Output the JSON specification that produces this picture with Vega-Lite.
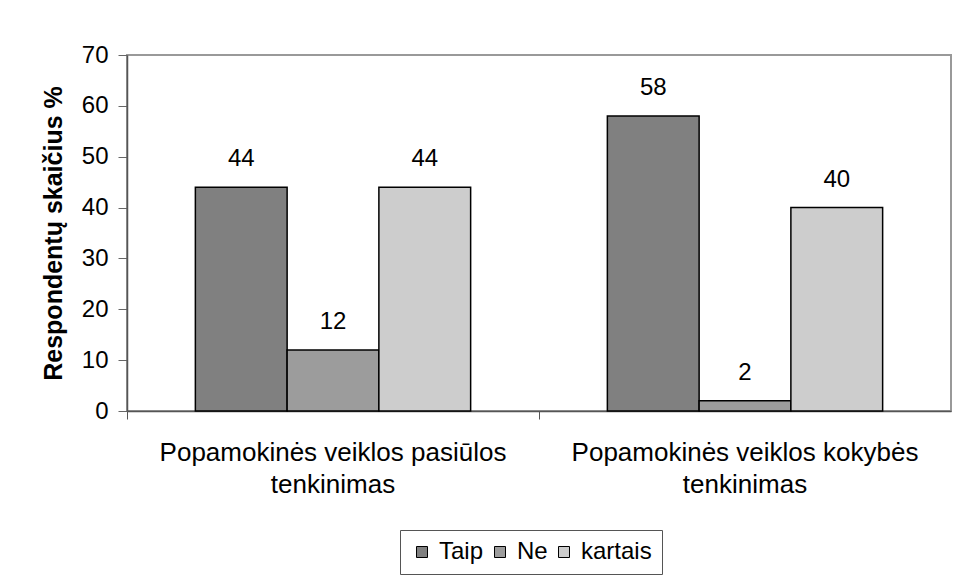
{
  "$schema": "https://vega.github.io/schema/vega-lite/v6.json",
  "width": 824,
  "height": 356,
  "autosize": {"type": "none"},
  "padding": {"left": 127, "top": 55, "right": 5, "bottom": 167},
  "background": "white",
  "config": {
    "font": "Liberation Sans",
    "view": {"stroke": "#999999", "strokeWidth": 2},
    "axis": {"labelFont": "Liberation Sans", "titleFont": "Liberation Sans", "labelColor": "black", "titleColor": "black"}
  },
  "data": {
    "values": [
      {"kategorija": "Popamokinės veiklos pasiūlos tenkinimas", "atsakymas": "Taip", "procentai": 44},
      {"kategorija": "Popamokinės veiklos pasiūlos tenkinimas", "atsakymas": "Ne", "procentai": 12},
      {"kategorija": "Popamokinės veiklos pasiūlos tenkinimas", "atsakymas": "kartais", "procentai": 44},
      {"kategorija": "Popamokinės veiklos kokybės tenkinimas", "atsakymas": "Taip", "procentai": 58},
      {"kategorija": "Popamokinės veiklos kokybės tenkinimas", "atsakymas": "Ne", "procentai": 2},
      {"kategorija": "Popamokinės veiklos kokybės tenkinimas", "atsakymas": "kartais", "procentai": 40}
    ]
  },
  "encoding": {
    "x": {
      "field": "kategorija",
      "type": "nominal",
      "sort": null,
      "scale": {"paddingInner": 0, "paddingOuter": 0},
      "axis": {
        "title": null,
        "labelAngle": 0,
        "labelFontSize": 26,
        "labelLineHeight": 32,
        "labelPadding": 20,
        "labelLimit": 0,
        "bandPosition": 0,
        "tickSize": 8,
        "tickColor": "#555555",
        "domainColor": "#555555",
        "domainWidth": 1.5,
        "labelExpr": "[slice(datum.label, 0, lastindexof(datum.label, ' ')), slice(datum.label, lastindexof(datum.label, ' ') + 1)]"
      }
    },
    "xOffset": {
      "field": "atsakymas",
      "type": "nominal",
      "sort": ["Taip", "Ne", "kartais"],
      "scale": {"paddingInner": 0, "paddingOuter": 0.745}
    },
    "y": {
      "field": "procentai",
      "type": "quantitative",
      "scale": {"domain": [0, 70]},
      "axis": {
        "title": "Respondentų skaičius %",
        "titleFontSize": 25,
        "titleFontWeight": "bold",
        "titlePadding": 15,
        "labelFontSize": 24,
        "labelPadding": 10,
        "tickSize": 9,
        "tickColor": "#666666",
        "domainColor": "#555555",
        "domainWidth": 1.5,
        "values": [0, 10, 20, 30, 40, 50, 60, 70],
        "grid": false
      }
    }
  },
  "layer": [
    {
      "mark": {"type": "bar", "stroke": "black", "strokeWidth": 1.5},
      "encoding": {
        "fill": {
          "field": "atsakymas",
          "type": "nominal",
          "sort": ["Taip", "Ne", "kartais"],
          "scale": {"domain": ["Taip", "Ne", "kartais"], "range": ["#808080", "#9c9c9c", "#cdcdcd"]},
          "legend": {
            "title": null,
            "orient": "none",
            "legendX": 273,
            "legendY": 475,
            "direction": "horizontal",
            "strokeColor": "#555555",
            "padding": 10,
            "symbolType": "square",
            "symbolSize": 121,
            "symbolStrokeColor": "black",
            "symbolStrokeWidth": 1,
            "symbolOpacity": 1,
            "labelFontSize": 24,
            "labelFont": "Liberation Sans",
            "labelColor": "black",
            "labelOffset": 5,
            "columnPadding": 4
          }
        }
      }
    },
    {
      "mark": {"type": "text", "fontSize": 24, "baseline": "alphabetic", "dy": -21, "color": "black"},
      "encoding": {
        "text": {"field": "procentai", "type": "quantitative"}
      }
    }
  ]
}
